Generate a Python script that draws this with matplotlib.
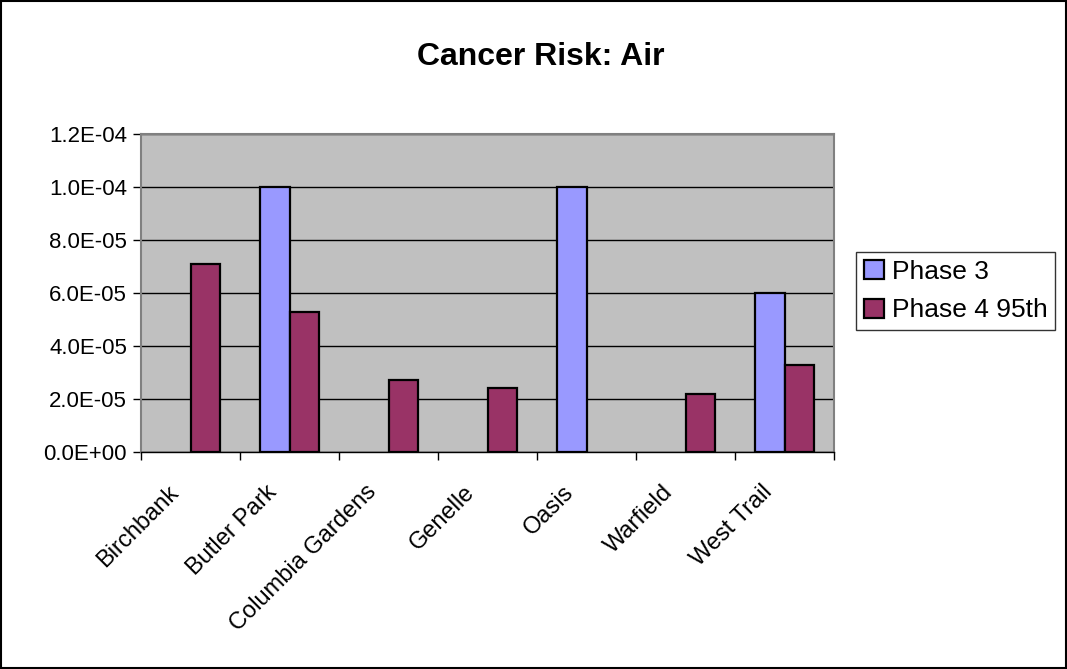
import numpy as np
import matplotlib
matplotlib.use("Agg")
import matplotlib.pyplot as plt
from matplotlib.patches import Rectangle
from matplotlib.ticker import FuncFormatter, FixedLocator
import matplotlib.transforms as mtransforms

plt.rcParams['font.family'] = ['Liberation Sans', 'DejaVu Sans']

# Data
sites = ["Birchbank", "Butler Park", "Columbia Gardens", "Genelle",
         "Oasis", "Warfield", "West Trail"]
phase3 = [np.nan, 1.0e-4, np.nan, np.nan, 1.0e-4, np.nan, 6.0e-5]
phase4_95th = [7.1e-5, 5.3e-5, 2.7e-5, 2.4e-5, np.nan, 2.2e-5, 3.3e-5]
yticks = [0.0, 2e-5, 4e-5, 6e-5, 8e-5, 1.0e-4, 1.2e-4]

fig = plt.figure(figsize=(10.67, 6.69), dpi=100)
ax = fig.add_axes([141 / 1067, 1 - 452 / 669, 693 / 1067, 318 / 669])
ax.set_facecolor('#C0C0C0')

x = np.arange(len(sites))
w = 0.293
ax.bar(x - w / 2, phase3, w, color='#9999FF', edgecolor='black',
       linewidth=1.6, label='Phase 3', zorder=3)
ax.bar(x + w / 2, phase4_95th, w, color='#993366', edgecolor='black',
       linewidth=1.6, label='Phase 4 95th', zorder=3)

ax.set_xlim(-0.5, len(sites) - 0.5)
ax.set_ylim(0, 1.2e-4)
ax.set_yticks(yticks)
ax.yaxis.set_major_formatter(FuncFormatter(lambda v, p: f"{v:.1E}"))
ax.grid(axis='y', color='black', linewidth=1, zorder=1)
ax.set_axisbelow(True)

# category ticks at boundaries, labels at centers
ax.xaxis.set_major_locator(FixedLocator(np.arange(-0.5, len(sites), 1.0)))
ax.xaxis.set_major_formatter(FuncFormatter(lambda v, p: ""))
ax.set_xticks(x, minor=True)
ax.set_xticklabels(sites, minor=True, rotation=45, ha='right', fontsize=17)
ax.tick_params(axis='x', which='minor', length=0, pad=21)
ax.tick_params(axis='x', which='major', length=6, width=1, color='black',
               direction='out')
ax.tick_params(axis='y', length=6, width=1, labelsize=16, direction='out', pad=4)

offset = mtransforms.ScaledTranslation(-8 / 100, 0, fig.dpi_scale_trans)
for lab in ax.xaxis.get_minorticklabels():
    lab.set_transform(lab.get_transform() + offset)

for side in ['left', 'top', 'right']:
    ax.spines[side].set_color('#808080')
    ax.spines[side].set_linewidth(1.5)
ax.spines['bottom'].set_color('black')
ax.spines['bottom'].set_linewidth(1)

fig.text(541 / 1067, 1 - 57 / 669, "Cancer Risk: Air", ha='center',
         va='center', fontsize=23, fontweight='bold')

leg = ax.legend(loc='upper left', bbox_to_anchor=(856 / 1067, 1 - 252 / 669),
                bbox_transform=fig.transFigure, fontsize=19, frameon=True,
                fancybox=False, edgecolor='black', handlelength=0.75,
                handleheight=0.75, handletextpad=0.3, labelspacing=0.55,
                borderpad=0.3, borderaxespad=0)
leg.get_frame().set_linewidth(1)

# outer chart border
fig.patches.append(Rectangle((0.001, 0.001), 0.998, 0.998, transform=fig.transFigure,
                             fill=False, edgecolor='black', linewidth=1.5))

fig.savefig("out.png", dpi=100)
